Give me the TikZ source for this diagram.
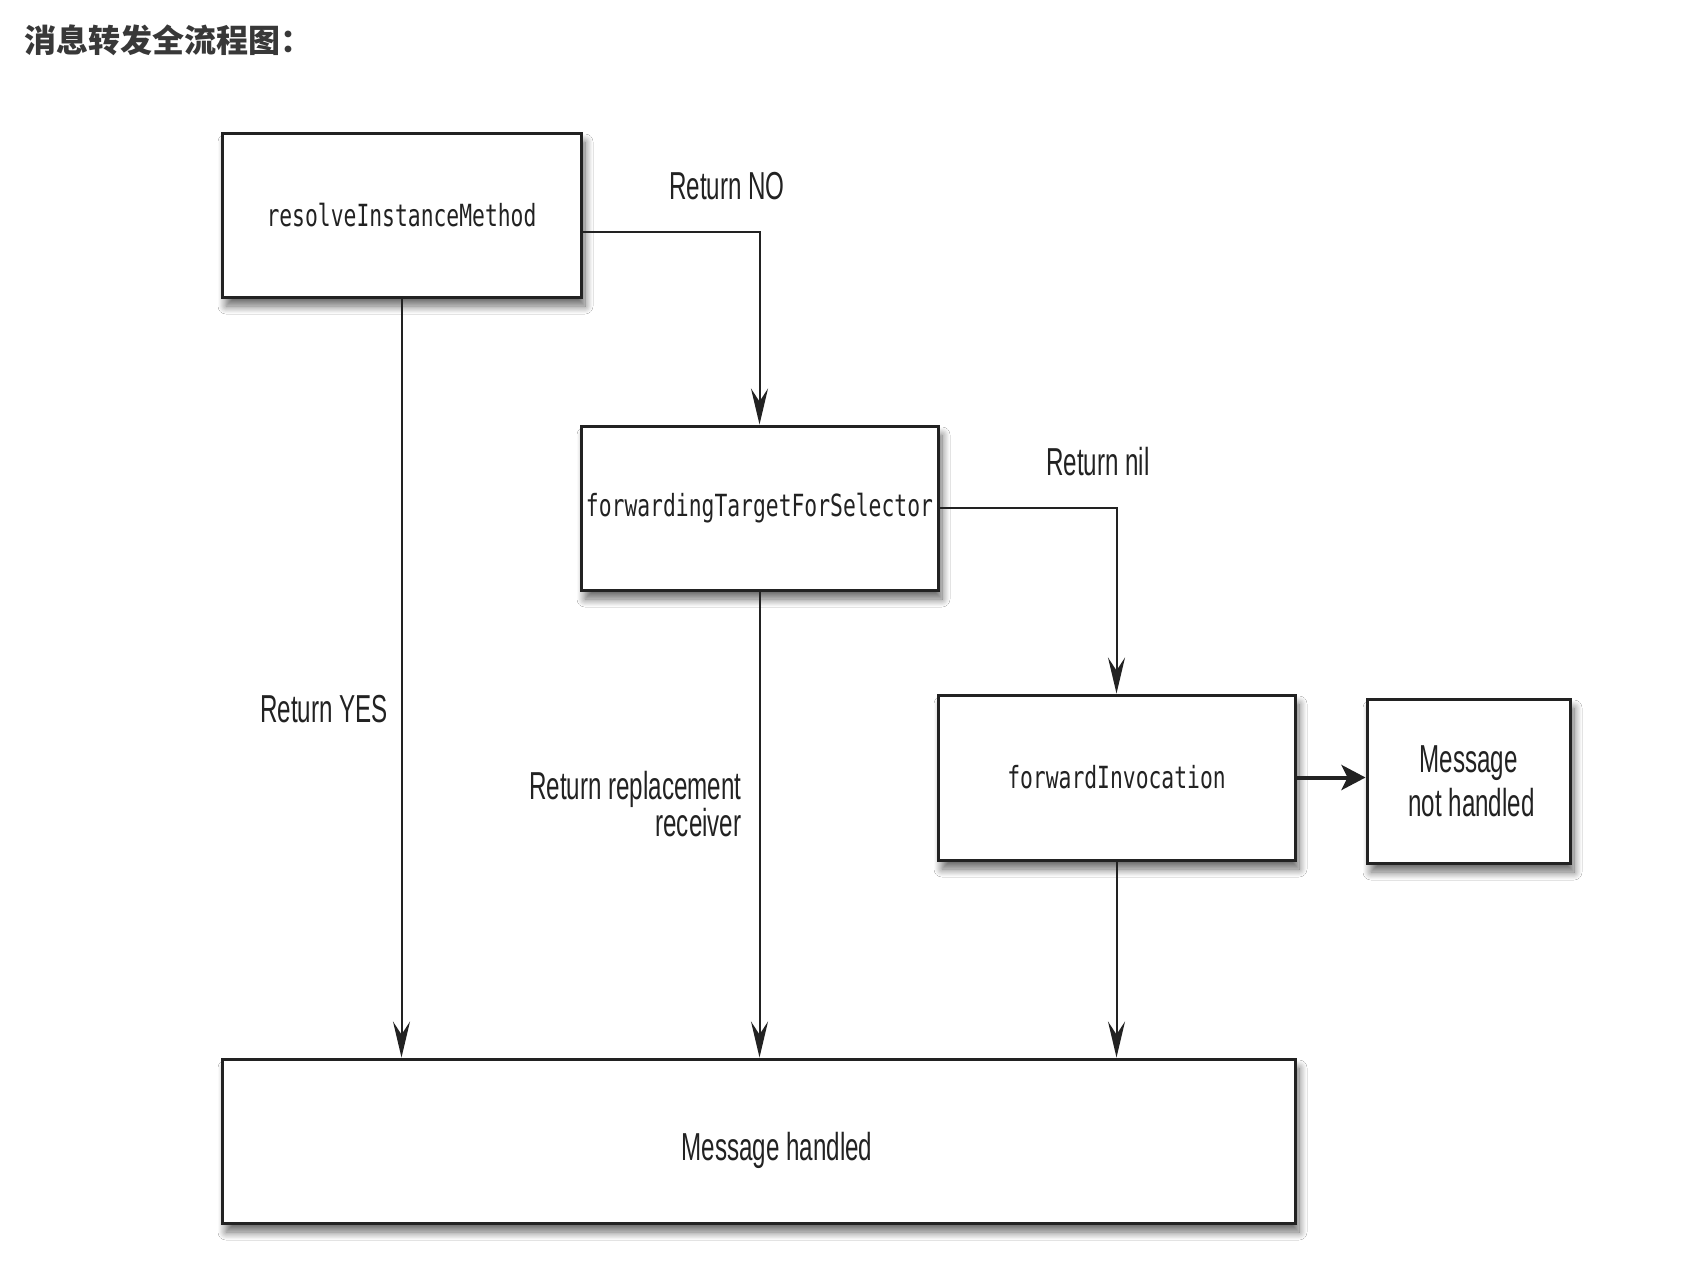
\documentclass[tikz,border=0pt]{standalone}
\usepackage{fontspec}
\newfontfamily\lab[FakeStretch=0.62]{Liberation Sans}
\newfontfamily\mono[FakeStretch=0.70]{DejaVu Sans Mono}
\newfontfamily\cjk{Noto Sans CJK SC}
\usetikzlibrary{arrows.meta,shadows.blur,calc}
\definecolor{ink}{HTML}{222222}
\definecolor{titlec}{HTML}{383838}
\tikzset{
  box/.style={draw=ink, line width=3pt, fill=white, inner sep=0pt,
    blur shadow={shadow xshift=4pt, shadow yshift=-9pt, shadow blur radius=8pt, shadow blur steps=12, shadow opacity=60}},
  monotext/.style={font=\mono\fontsize{30.5}{34}\selectfont, text=ink},
  labtext/.style={font=\lab\fontsize{39}{36}\selectfont, text=ink},
  conn/.style={draw=ink, line width=2pt, -{Stealth[length=36pt,width=17pt,inset=13pt]}},
  thickconn/.style={draw=ink, line width=4pt, -{Stealth[length=24pt,width=25pt,inset=6pt]}}
}
\begin{document}
\begin{tikzpicture}[x=1pt,y=-1pt]
\useasboundingbox (0,0) rectangle (1692,1262);
\fill[white] (0,0) rectangle (1692,1262);
\node[anchor=west, font=\cjk\bfseries\fontsize{32}{36}\selectfont, text=titlec] (title) at (21,40) {消息转发全流程图：};

\node[box, monotext, minimum width=359pt, minimum height=164pt] (b1) at (401.5,215) {resolveInstanceMethod};
\node[box, monotext, minimum width=357pt, minimum height=164pt] (b2) at (759.5,508) {forwardingTargetForSelector};
\node[box, monotext, minimum width=357pt, minimum height=165pt] (b3) at (1116.5,777.5) {forwardInvocation};
\node[box, labtext, align=center, minimum width=203pt, minimum height=164pt, font=\lab\fontsize{39}{44}\selectfont] (b4) at (1468.5,781) {Message\\\hspace{6pt}not handled};
\node[box, minimum width=1073pt, minimum height=164pt] (b5) at (758.5,1141) {};
\node[labtext] (mh) at (777,1150) {Message handled};

\coordinate (c1) at ($(b1.east)+(0,17)$);
\draw[conn] (c1) -| (b2.north);
\draw[conn] (b1.south) -- (b5.north -| b1.south);
\draw[conn] (b2.east) -| (b3.north);
\draw[conn] (b2.south) -- (b5.north -| b2.south);
\draw[conn] (b3.south) -- (b5.north -| b3.south);
\draw[thickconn] (b3.east) -- (b3.east -| b4.west);

\node[labtext] (lno) at (727,186) {Return NO};
\node[labtext] (lnil) at (1098,462) {Return nil};
\node[labtext] (lyes) at (324,709) {Return YES};
\node[labtext, align=right, anchor=east] (lrep) at (745,804) {Return replacement\\receiver};
\end{tikzpicture}
\end{document}
